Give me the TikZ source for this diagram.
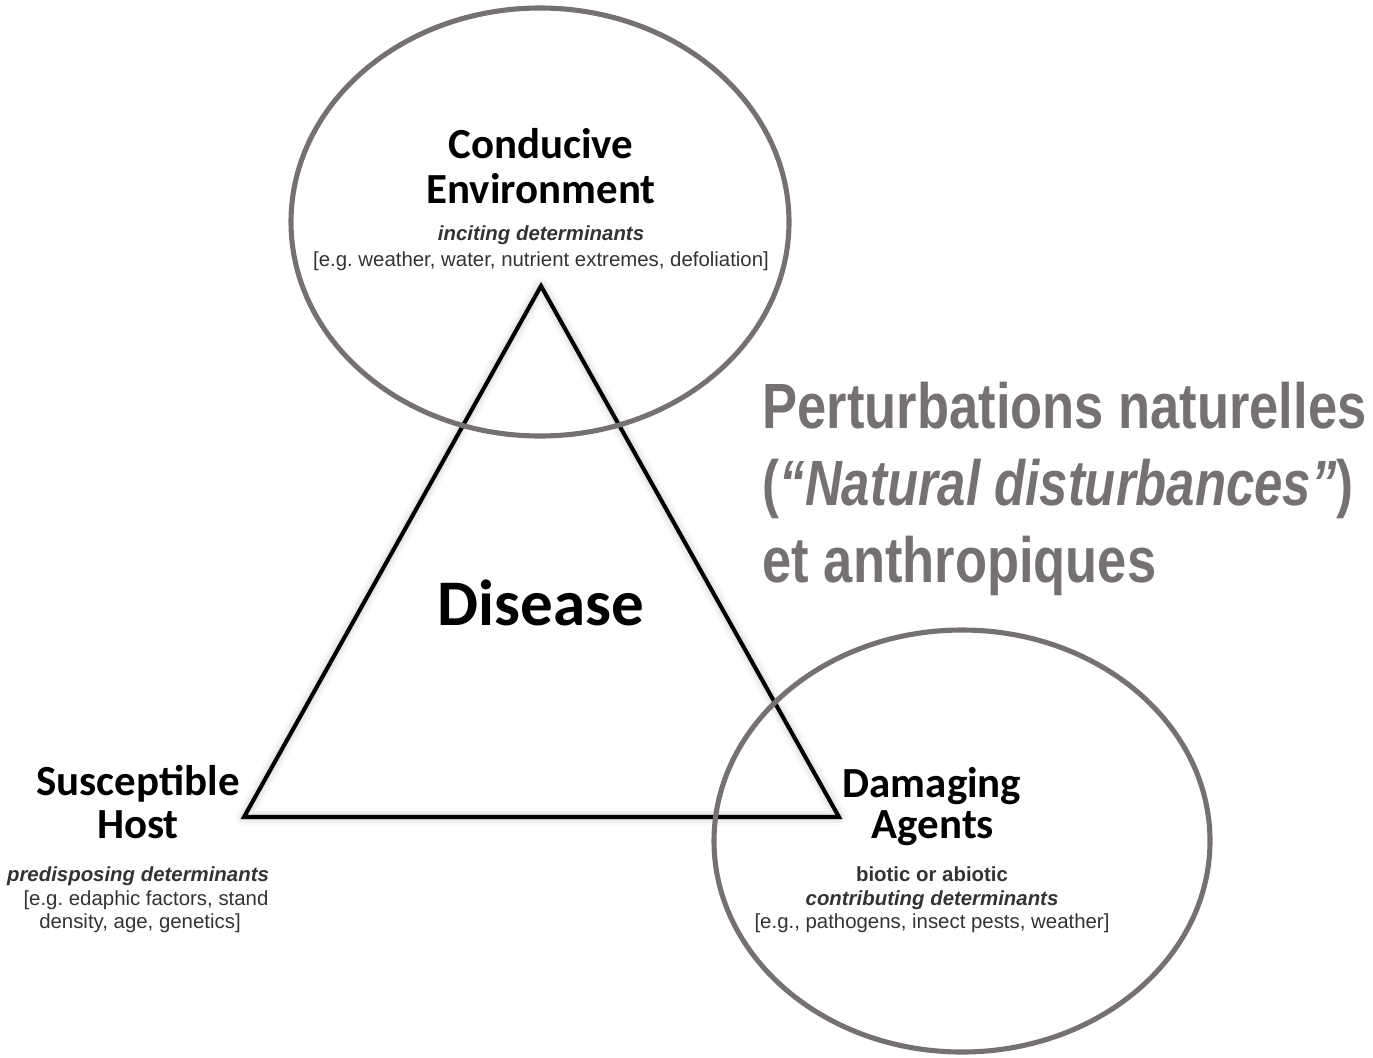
\documentclass[tikz,border=0pt]{standalone}
\usepackage{fontspec}
\setmainfont{Liberation Sans}
\newfontfamily\calibri{Carlito}
\newfontfamily\narrow[FakeStretch=0.82]{Liberation Sans}
\newfontfamily\narrowtight[FakeStretch=0.795]{Liberation Sans}
\definecolor{ringgray}{HTML}{767171}
\frenchspacing
\tikzset{
    every picture/.style={x=0.01cm, y=-0.01cm},
    title/.style={font=\calibri\bfseries\fontsize{12.2}{14}\selectfont, anchor=base},
    detail/.style={font=\fontsize{5.8}{7}\selectfont, text=black!80, anchor=base},
    detailit/.style={detail, font=\fontsize{5.8}{7}\selectfont\bfseries\itshape},
    detailbf/.style={detail, font=\fontsize{5.8}{7}\selectfont\bfseries},
    ring/.style={draw=ringgray, line width=1.45pt},
    remark/.style={font=\narrow\bfseries\fontsize{18.2}{22}\selectfont, text=ringgray, anchor=base west, inner sep=0pt},
}

\begin{document}
\begin{tikzpicture}
    \useasboundingbox (0,0) rectangle (1373,1057);

    % Define corners
    \coordinate (apex) at (541,286);
    \coordinate (host) at (244,817);
    \coordinate (agent) at (839,817);

    % Soft shadow of the triangle
    \foreach \w/\o in {18/0.025, 12/0.035, 7/0.05} {
        \draw[line width=\w*0.2845pt, black, opacity=\o, line join=round] (apex) -- (host) -- (agent) -- cycle;
    }

    % Draw triangle
    \draw[line width=1.15pt, black, line join=miter] (apex) -- (host) -- (agent) -- cycle;

    % Circles
    \draw[ring] (540,222) ellipse [x radius=249, y radius=214];
    \draw[ring] (962,841) ellipse [x radius=248, y radius=211];

    % Centre
    \node[title, font=\calibri\bfseries\fontsize{18.5}{22}\selectfont] (disease) at (541,625) {Disease};

    % Top corner
    \node[title] (cond1) at (541,158) {Conducive};
    \node[title] (cond2) at (541,203) {Environment};
    \node[detailit] (cond3) at (541,240) {inciting determinants};
    \node[detail] (cond4) at (541,266) {[e.g. weather, water, nutrient extremes, defoliation]};

    % Left corner
    \node[title] (host1) at (138,795) {Susceptible};
    \node[title] (host2) at (138,838) {Host};
    \node[detailit] (host3) at (138,881) {predisposing determinants};
    \node[detail] (host4) at (146,905) {[e.g. edaphic factors, stand};
    \node[detail] (host5) at (140,928) {density, age, genetics]};

    % Right corner
    \node[title] (agent1) at (932,797) {Damaging};
    \node[title] (agent2) at (933,838) {Agents};
    \node[detailbf] (agent3) at (932,881) {biotic or abiotic};
    \node[detailit] (agent4) at (932,905) {contributing determinants};
    \node[detail] (agent5) at (932,928) {[e.g., pathogens, insect pests, weather]};

    % Remark on the right
    \node[remark] (rem1) at (762,428) {Perturbations naturelles};
    \node[remark, font=\narrowtight\bfseries\fontsize{18.2}{22}\selectfont] (rem2) at (762,505) {(\textit{“Natural disturbances”})};
    \node[remark] (rem3) at (762,582) {et anthropiques};
\end{tikzpicture}
\end{document}
